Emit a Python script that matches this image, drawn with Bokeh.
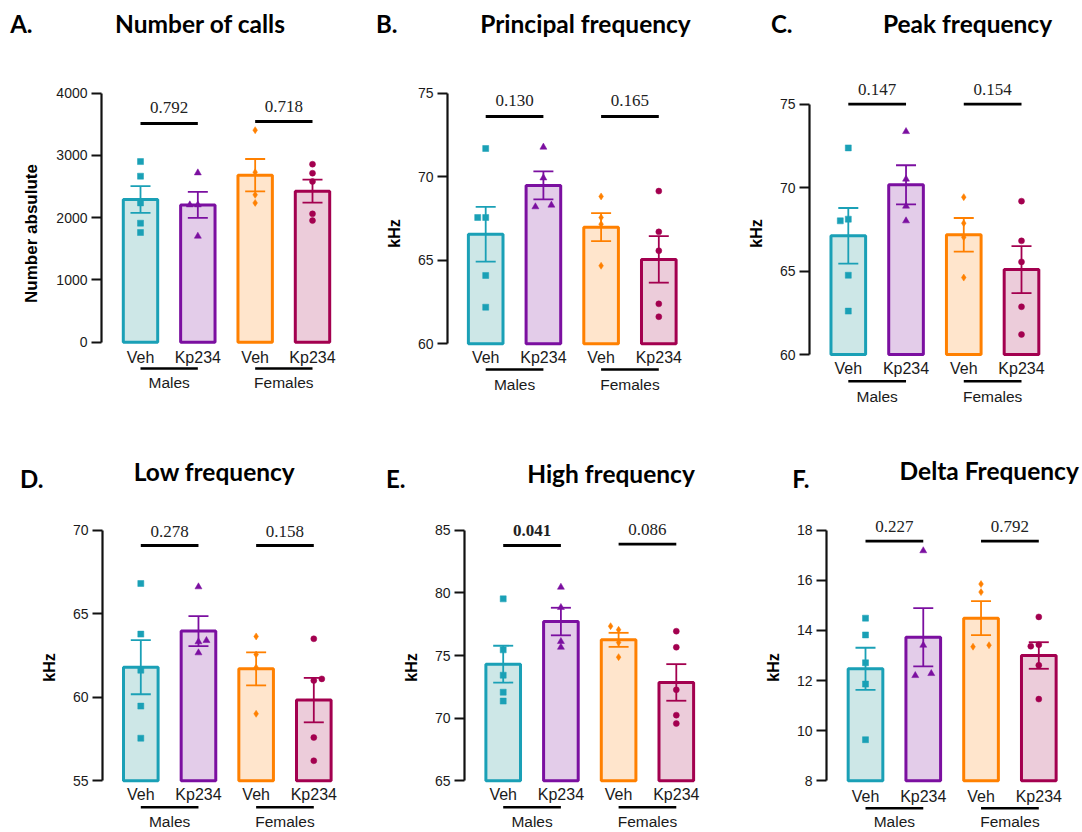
from bokeh.plotting import figure
from bokeh.layouts import column, row
from bokeh.models import FixedTicker, Range1d, LinearAxis
from bokeh.core.properties import value
from bokeh.embed import file_html
from bokeh.resources import INLINE

# ---------------- data ----------------
groups = ["Veh", "Kp234", "Veh", "Kp234"]
sexes = ["Males", "Females"]

A_mean = [2292, 2206, 2683, 2426]
A_sem = [215, 210, 260, 185]
A_m_veh = [2902, 2667, 2238, 1912, 1762]
A_m_kp = [2720, 2206, 2206, 1703]
A_f_veh = [3406, 2731, 2367, 2238]
A_f_kp = [2859, 2715, 2581, 2062, 1954]
A_p = ["0.792", "0.718"]

B_mean = [66.56, 69.48, 66.98, 65.05]
B_sem = [1.64, 0.84, 0.84, 1.39]
B_m_veh = [71.69, 67.56, 67.56, 64.09, 62.19]
B_m_kp = [71.77, 69.93, 68.20, 68.30]
B_f_veh = [68.82, 67.56, 67.16, 64.67]
B_f_kp = [69.14, 66.70, 65.57, 62.39, 61.62]
B_p = ["0.130", "0.165"]

C_mean = [67.11, 70.17, 67.17, 65.09]
C_sem = [1.67, 1.17, 1.01, 1.41]
C_m_veh = [72.38, 68.01, 68.11, 64.75, 62.60]
C_m_kp = [73.36, 70.51, 68.89, 68.01]
C_f_veh = [69.43, 67.87, 67.03, 64.61]
C_f_kp = [69.19, 66.81, 65.55, 62.86, 61.20]
C_p = ["0.147", "0.154"]

D_mean = [61.80, 63.96, 61.70, 59.83]
D_sem = [1.62, 0.90, 0.99, 1.33]
D_m_veh = [66.81, 63.78, 61.62, 59.47, 57.55]
D_m_kp = [66.61, 63.32, 63.40, 62.66]
D_f_veh = [63.64, 62.56, 61.78, 59.01]
D_f_kp = [63.50, 61.00, 61.10, 57.59, 56.20]
D_p = ["0.278", "0.158"]

E_mean = [74.31, 77.71, 76.25, 72.85]
E_sem = [1.47, 1.10, 0.56, 1.46]
E_m_veh = [79.52, 75.45, 73.43, 72.07, 71.36]
E_m_kp = [80.45, 78.83, 76.12, 75.66]
E_f_veh = [77.34, 77.05, 76.04, 74.87]
E_f_kp = [76.94, 75.66, 72.26, 70.24, 69.57]
E_p = ["0.041", "0.086"]

F_mean = [12.47, 13.73, 14.49, 13.00]
F_sem = [0.84, 1.16, 0.68, 0.53]
F_m_veh = [14.49, 13.82, 12.71, 11.86, 9.64]
F_m_kp = [17.18, 13.41, 12.20, 12.28]
F_f_veh = [15.85, 15.53, 13.35, 13.41]
F_f_kp = [14.54, 13.37, 13.43, 12.61, 11.26]
F_p = ["0.227", "0.792"]

# horizontal dodge of overlapping points (-1 left, 0 centre, 1 right)
A_jit = [[0, 0, 0, 0, 0], [0, -1, 0, 0], [0, 0, 0, 0], [0, 0, 0, 0, 0]]
B_jit = [[0, -1, 0, 0, 0], [0, 0, -1, 1], [0, 0, 0, 0], [0, 0, 0, 0, 0]]
C_jit = [[0, -1, 0, 0, 0], [0, 0, 0, 0], [0, 0, 0, 0], [0, 0, 0, 0, 0]]
D_jit = [[0, 0, 0, 0, 0], [0, 0, 1, 0], [0, 0, 0, 0], [0, 0, 1, 0, 0]]
E_jit = [[0, 0, 0, 0, 0], [0, 0, 0, 0], [-1, 0, 0, 0], [0, 0, 0, 0, 0]]
F_jit = [[0, 0, 0, 0, 0], [0, 0, -1, 1], [0, 0, -1, 1], [0, -1, 0, 0, 0]]

# ---------------- styles ----------------
line_cols = ["#1AA0B6", "#7B0FA0", "#FF8000", "#A3004F"]
fill_cols = ["#CDE7E7", "#E3CCE9", "#FFE5CC", "#ECCCDA"]
markers = ["square", "triangle", "diamond", "circle"]
msizes = [6, 7, 7, 6]
TXT = "#1a1a1a"

panels = [
    dict(letter="A.", title="Number of calls", ylabel="Number absulute", ylsize="17px",
         ticks=[0, 1000, 2000, 3000, 4000], mean=A_mean, sem=A_sem,
         pts=[A_m_veh, A_m_kp, A_f_veh, A_f_kp], jit=A_jit, p=A_p, bold=[False, False],
         axis_x=101, top=92.7, bot=341.7, centers=[140, 197, 255, 312],
         title_xy=(200, 23), letter_x=10, cat_y=357, gline_y=368, gtext_y=382,
         p_y=[107, 106], pline_y=[123, 121]),
    dict(letter="B.", title="Principal frequency", ylabel="kHz", ylsize="16px",
         ticks=[60, 65, 70, 75], mean=B_mean, sem=B_sem,
         pts=[B_m_veh, B_m_kp, B_f_veh, B_f_kp], jit=B_jit, p=B_p, bold=[False, False],
         axis_x=87.3, top=92.7, bot=343.3, centers=[125.2, 183.2, 240.7, 298.3],
         title_xy=(225, 23), letter_x=15, cat_y=357, gline_y=369, gtext_y=384,
         p_y=[100, 100], pline_y=[116, 116]),
    dict(letter="C.", title="Peak frequency", ylabel="kHz", ylsize="16px",
         ticks=[60, 65, 70, 75], mean=C_mean, sem=C_sem,
         pts=[C_m_veh, C_m_kp, C_f_veh, C_f_kp], jit=C_jit, p=C_p, bold=[False, False],
         axis_x=89, top=103.7, bot=354, centers=[127.8, 185.5, 243.3, 301],
         title_xy=(247, 23), letter_x=50, cat_y=368, gline_y=380.7, gtext_y=395.7,
         p_y=[89, 89], pline_y=[103.7, 103.7]),
    dict(letter="D.", title="Low frequency", ylabel="kHz", ylsize="16px",
         ticks=[55, 60, 65, 70], mean=D_mean, sem=D_sem,
         pts=[D_m_veh, D_m_kp, D_f_veh, D_f_kp], jit=D_jit, p=D_p, bold=[False, False],
         axis_x=101.7, top=109.7, bot=360.3, centers=[140.3, 198, 255.3, 313.3],
         title_xy=(214, 50.7), letter_x=20.7, cat_y=374, gline_y=386.7, gtext_y=401,
         p_y=[110.7, 110.7], pline_y=[125, 125]),
    dict(letter="E.", title="High frequency", ylabel="kHz", ylsize="16px",
         ticks=[65, 70, 75, 80, 85], mean=E_mean, sem=E_sem,
         pts=[E_m_veh, E_m_kp, E_f_veh, E_f_kp], jit=E_jit, p=E_p, bold=[True, False],
         axis_x=104.3, top=109.7, bot=360.3, centers=[142.7, 200.5, 257.8, 315.8],
         title_xy=(250.5, 53.3), letter_x=22.7, cat_y=374, gline_y=386.7, gtext_y=401,
         p_y=[110, 108.7], pline_y=[125, 123.7]),
    dict(letter="F.", title="Delta Frequency", ylabel="kHz", ylsize="16px",
         ticks=[8, 10, 12, 14, 16, 18], mean=F_mean, sem=F_sem,
         pts=[F_m_veh, F_m_kp, F_f_veh, F_f_kp], jit=F_jit, p=F_p, bold=[False, False],
         axis_x=106.3, top=109.7, bot=360.3, centers=[145, 202.3, 260.2, 318.3],
         title_xy=(268.7, 50), letter_x=66.7, cat_y=375.7, gline_y=387.7, gtext_y=401,
         p_y=[106, 106], pline_y=[120.7, 120.7]),
]

LETTER_W = 22  # approx. rendered width of a panel letter such as "A."


def build(pan, W, H, RW, RH, head_ref, letter_drop):
    sx, sy = W / RW, H / RH
    hh = int(round(head_ref * sy))
    MH = H - hh
    L = int(round(pan["axis_x"] * sx))

    # ---- header strip: title as glyph, panel letter as horizontal axis label ----
    hd = figure(width=W, height=hh, x_range=Range1d(L, W), y_range=Range1d(hh, 0),
                x_axis_type=None, y_axis_type=None, toolbar_location=None,
                output_backend="svg", min_border=0, min_border_left=L,
                outline_line_color=None)
    hd.xgrid.visible = False
    hd.ygrid.visible = False
    tx, ty = pan["title_xy"]
    hd.text(x=[tx * sx], y=[ty * sy], text=[pan["title"]], text_align="center",
            text_baseline="middle", text_font=value("Lato"), text_font_style="bold",
            text_font_size="24.5px", text_color="#000000")
    letter = ("\n" + pan["letter"]) if letter_drop else pan["letter"]
    lax = LinearAxis(ticker=FixedTicker(ticks=[]),
                     axis_line_color=None, major_tick_line_color=None,
                     minor_tick_line_color=None, major_label_text_font_size="0px",
                     major_tick_out=0, major_tick_in=0, major_label_standoff=0,
                     axis_label=letter, axis_label_orientation="horizontal",
                     axis_label_text_font="Lato", axis_label_text_font_style="bold",
                     axis_label_text_font_size="24px", axis_label_text_color="#000000",
                     axis_label_standoff=max(0, int(round(L - pan["letter_x"] * sx - LETTER_W))))
    hd.add_layout(lax, "left")

    # ---- main plot ----
    c = [v * sx for v in pan["centers"]]
    d = (c[3] - c[0]) / 3.0
    x0 = 1 - (c[0] - L) / d
    x1 = x0 + (W - L) / d
    lo, hi = pan["ticks"][0], pan["ticks"][-1]
    top, bot = pan["top"] * sy - hh, pan["bot"] * sy - hh
    u = (hi - lo) / (bot - top)
    y1 = hi + top * u
    y0 = y1 - MH * u

    def Y(py):
        return y1 - (py * sy - hh) * u

    p = figure(width=W, height=MH, x_range=Range1d(x0, x1), y_range=Range1d(y0, y1),
               x_axis_type=None, toolbar_location=None, output_backend="svg",
               min_border=0, min_border_left=L, outline_line_color=None)
    p.xgrid.visible = False
    p.ygrid.visible = False

    ax = p.yaxis[0]
    ax.bounds = (lo, hi)
    ax.ticker = FixedTicker(ticks=pan["ticks"])
    ax.axis_line_width = 2.2
    ax.axis_line_color = "#111111"
    ax.major_tick_line_width = 2.2
    ax.major_tick_line_color = "#111111"
    ax.major_tick_out = 10
    ax.major_tick_in = 0
    ax.minor_tick_line_color = None
    ax.major_label_standoff = 4
    ax.major_label_text_font = "Liberation Sans"
    ax.major_label_text_font_size = "14px"
    ax.major_label_text_color = TXT
    ax.axis_label = pan["ylabel"]
    ax.axis_label_text_font = "Liberation Sans"
    ax.axis_label_text_font_style = "bold"
    ax.axis_label_text_font_size = pan["ylsize"]
    ax.axis_label_text_color = "#000000"
    ax.axis_label_standoff = 12

    xs = [1, 2, 3, 4]
    # bars
    p.vbar(x=xs, top=pan["mean"], bottom=lo, width=0.6, fill_color=fill_cols,
           line_color=line_cols, line_width=3)
    # points
    jstep = 8 * sx / d
    for i in range(4):
        vals = pan["pts"][i]
        px = [xs[i] + j * jstep for j in pan["jit"][i]]
        p.scatter(px, vals, marker=markers[i], size=msizes[i], fill_color=line_cols[i],
                  line_color=line_cols[i], line_width=0.5)
    # error bars (mean +/- SEM)
    lo_e = [m - s for m, s in zip(pan["mean"], pan["sem"])]
    hi_e = [m + s for m, s in zip(pan["mean"], pan["sem"])]
    cap = 10 * sx / d
    p.segment(x0=xs, y0=lo_e, x1=xs, y1=hi_e, line_color=line_cols, line_width=1.8)
    p.segment(x0=[x - cap for x in xs], y0=lo_e, x1=[x + cap for x in xs], y1=lo_e,
              line_color=line_cols, line_width=1.8)
    p.segment(x0=[x - cap for x in xs], y0=hi_e, x1=[x + cap for x in xs], y1=hi_e,
              line_color=line_cols, line_width=1.8)

    # category labels
    p.text(x=xs, y=[Y(pan["cat_y"])] * 4, text=groups, text_align="center",
           text_baseline="middle", text_font=value("Liberation Sans"),
           text_font_size="16px", text_color=TXT)
    # group lines and labels
    gy = Y(pan["gline_y"])
    p.segment(x0=[xs[0], xs[2]], y0=[gy, gy], x1=[xs[1], xs[3]], y1=[gy, gy],
              line_color="#000000", line_width=2.5)
    p.text(x=[(xs[0] + xs[1]) / 2, (xs[2] + xs[3]) / 2], y=[Y(pan["gtext_y"])] * 2,
           text=sexes, text_align="center", text_baseline="middle",
           text_font=value("Liberation Sans"), text_font_size="15.5px", text_color=TXT)
    # p-values
    for k in range(2):
        a, b = xs[2 * k], xs[2 * k + 1]
        lyy = Y(pan["pline_y"][k])
        p.segment(x0=[a], y0=[lyy], x1=[b], y1=[lyy], line_color="#000000", line_width=2.8)
        p.text(x=[(a + b) / 2], y=[Y(pan["p_y"][k])], text=[pan["p"][k]],
               text_align="center", text_baseline="middle",
               text_font=value("Liberation Serif"), text_font_size="17px",
               text_font_style="bold" if pan["bold"][k] else "normal", text_color="#222222")
    return column(hd, p, spacing=0)


col_w = [360, 360, 362]
ref_w = [360, 360, 362]
row_h = [420, 412]
ref_h = [420, 412]
head_ref = [46, 82]
letter_drop = [False, True]

cells = []
for i, pan in enumerate(panels):
    r, cidx = divmod(i, 3)
    cells.append(build(pan, col_w[cidx], row_h[r], ref_w[cidx], ref_h[r], head_ref[r],
                       letter_drop[r]))

layout = column(row(*cells[:3], spacing=0), row(*cells[3:], spacing=0), spacing=0)
open("out.html", "w").write(file_html(layout, INLINE))
